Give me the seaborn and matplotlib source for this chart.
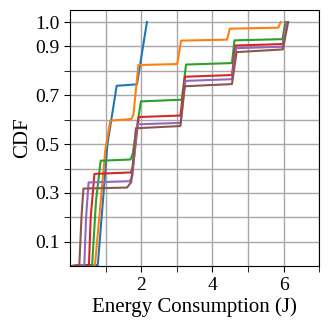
import numpy as np
import pandas as pd
import matplotlib
matplotlib.use("Agg")
import matplotlib.pyplot as plt
import seaborn as sns

# CDF curves (x = energy in J, y = CDF)
blue_x = [0.0, 0.78, 1.05, 1.31, 1.88, 2.16]
blue_y = [0.0, 0.005, 0.50, 0.739, 0.745, 1.0]

orange_x = [0.0, 0.70, 0.99, 1.13, 1.72, 1.78, 1.92, 3.01, 3.12, 4.41, 4.49, 5.85, 5.92]
orange_y = [0.0, 0.005, 0.475, 0.596, 0.603, 0.62, 0.824, 0.828, 0.924, 0.928, 0.973, 0.977, 1.0]

green_x = [0.0, 0.62, 0.73, 0.86, 1.70, 1.76, 1.99, 3.14, 3.26, 4.55, 4.62, 5.97, 6.05]
green_y = [0.0, 0.005, 0.27, 0.432, 0.437, 0.46, 0.675, 0.682, 0.826, 0.832, 0.925, 0.93, 1.0]

red_x = [0.0, 0.53, 0.58, 0.685, 1.71, 1.77, 1.93, 3.10, 3.23, 4.55, 4.65, 5.98, 6.08]
red_y = [0.0, 0.005, 0.2, 0.378, 0.384, 0.41, 0.611, 0.617, 0.776, 0.783, 0.904, 0.91, 1.0]

purple_x = [0.0, 0.40, 0.45, 0.52, 1.68, 1.75, 1.89, 3.11, 3.24, 4.55, 4.67, 5.98, 6.08]
purple_y = [0.0, 0.005, 0.2, 0.343, 0.348, 0.37, 0.581, 0.587, 0.759, 0.766, 0.893, 0.899, 1.0]

brown_x = [0.0, 0.26, 0.32, 0.375, 1.60, 1.72, 1.85, 3.10, 3.22, 4.55, 4.68, 5.98, 6.13]
brown_y = [0.0, 0.005, 0.2, 0.318, 0.322, 0.345, 0.565, 0.574, 0.737, 0.746, 0.877, 0.888, 1.0]

series = {
    "s1": (blue_x, blue_y),
    "s2": (orange_x, orange_y),
    "s3": (green_x, green_y),
    "s4": (red_x, red_y),
    "s5": (purple_x, purple_y),
    "s6": (brown_x, brown_y),
}

y_major = [0.1, 0.3, 0.5, 0.7, 0.9, 1.0]
y_minor = [0.2, 0.4, 0.6, 0.8]
x_major = [2, 4, 6]
x_minor = [1, 3, 5, 7]

plt.rcParams["font.family"] = ["Liberation Serif", "DejaVu Serif"]

rows = []
for name, (xs, ys) in series.items():
    for i, (x, y) in enumerate(zip(xs, ys)):
        rows.append({"series": name, "order": i, "energy": x, "cdf": y})
df = pd.DataFrame(rows)

fig = plt.figure(figsize=(3.29, 3.29), dpi=100)
ax = fig.add_axes([0.213, 0.191, 0.757, 0.779])

sns.lineplot(data=df, x="energy", y="cdf", hue="series", units="series",
             estimator=None, sort=False, palette="tab10", linewidth=1.5,
             legend=False, ax=ax)

ax.set_xlim(0, 7)
ax.set_ylim(0, 1.05)
ax.set_xticks(x_major)
ax.set_xticks(x_minor, minor=True)
ax.set_yticks(y_major)
ax.set_yticks(y_minor, minor=True)
ax.tick_params(axis="both", which="major", labelsize=14, length=4)
ax.tick_params(axis="both", which="minor", length=4)
ax.grid(True, which="both", color="#a8a8a8", linewidth=1)
ax.set_axisbelow(True)
ax.set_xlabel("Energy Consumption (J)", fontsize=15, labelpad=3)
ax.set_ylabel("CDF", fontsize=15, labelpad=2)

fig.savefig("out.png", dpi=100)
